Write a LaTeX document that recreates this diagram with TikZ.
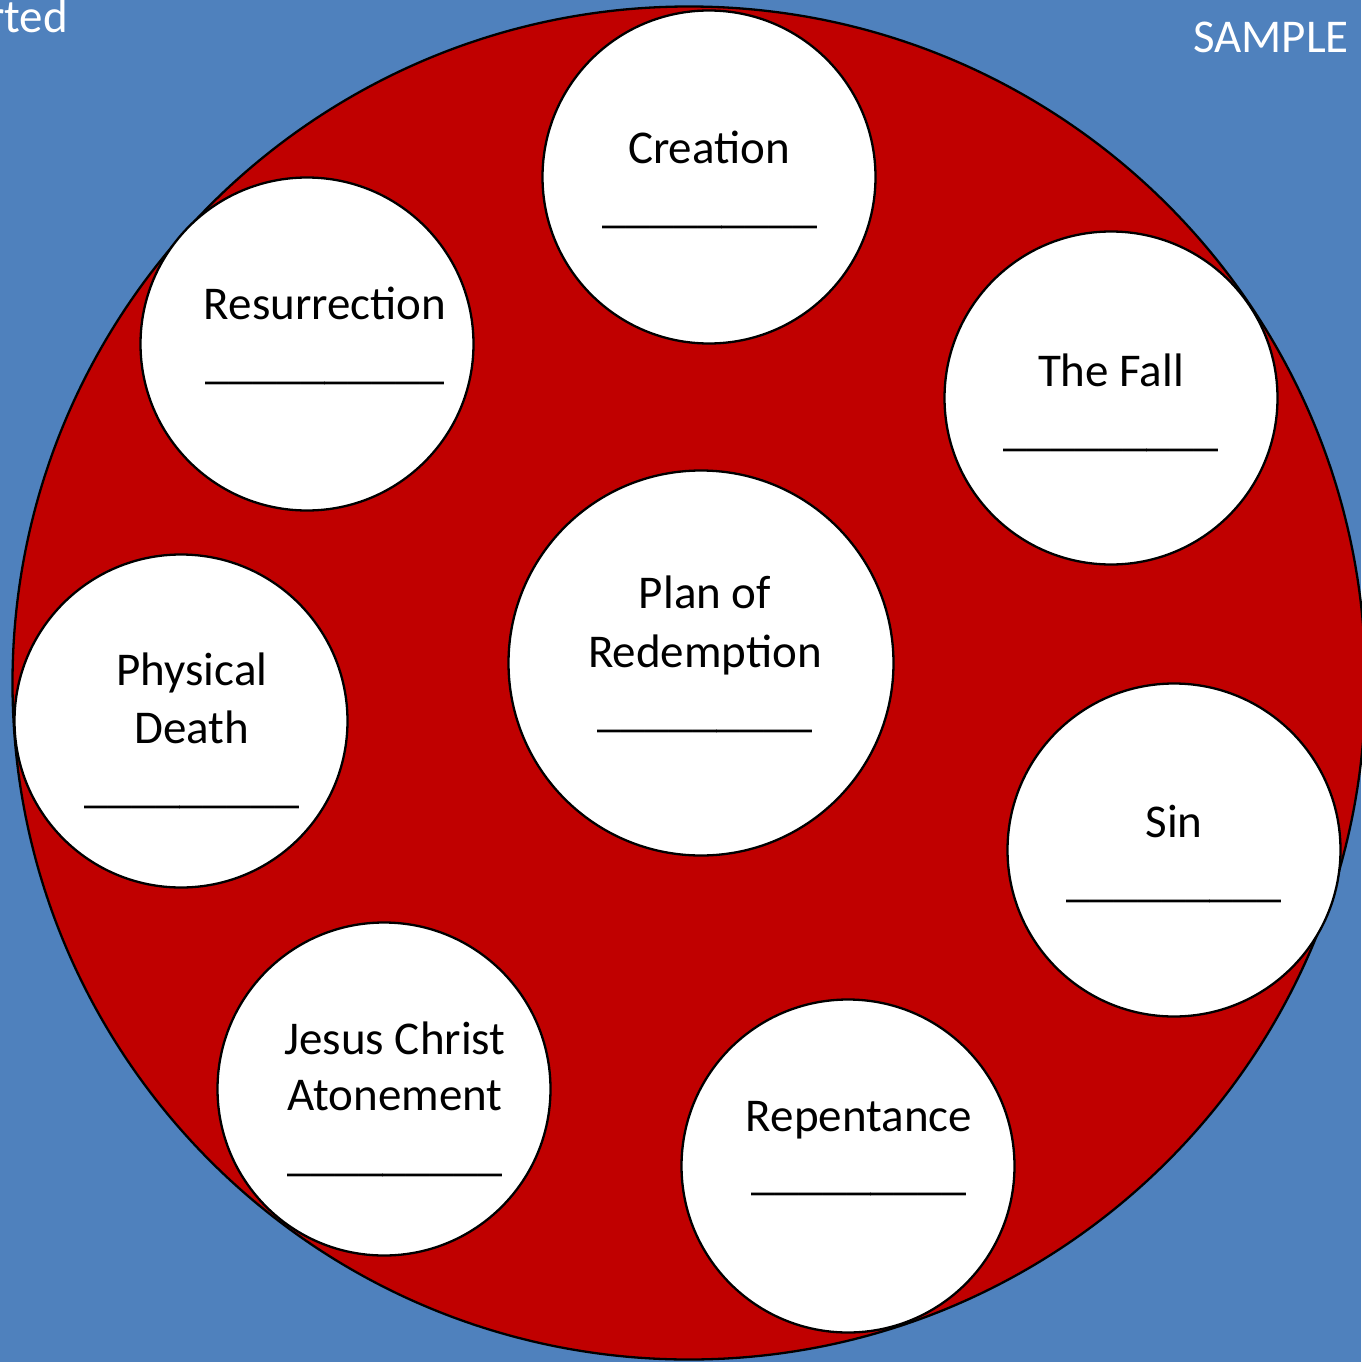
\documentclass[tikz,border=0pt]{standalone}
\usepackage{fontspec}
\setmainfont{Carlito}
\definecolor{bgblue}{HTML}{4F81BD}
\definecolor{bigred}{HTML}{C00000}
\begin{document}
\begin{tikzpicture}[x=1pt,y=-1pt,
  smallc/.style={circle, draw=black, fill=white, line width=2.3pt, minimum size=333pt, inner sep=0pt},
  bigc/.style={circle, draw=black, fill=bigred, line width=2.3pt, minimum size=1353pt, inner sep=0pt},
  lbl/.style={anchor=base, inner sep=0pt, font=\fontsize{47}{58}\selectfont, text=black},
  uline/.style={lbl, xscale=1.025},
  wlbl/.style={anchor=base east, inner sep=0pt, font=\fontsize{47}{58}\selectfont, text=white}]
\fill[bgblue] (0,0) rectangle (1361,1362);
\useasboundingbox (0,0) rectangle (1361,1362);
\node[bigc] (big) at (689,683) {};
\node[wlbl] (rted) at (68,33) {rted};
\node[wlbl] (sample) at (1349,53) {SAMPLE};
% small circles
\node[smallc] (cre) at (709,177) {};
\node[smallc] (res) at (307,344) {};
\node[smallc] (fall) at (1111,398) {};
\node[smallc, minimum size=385pt] (plan) at (701,663) {};
\node[smallc] (phys) at (181,721) {};
\node[smallc] (sin) at (1174,850) {};
\node[smallc] (jes) at (384,1089) {};
\node[smallc] (rep) at (848,1166) {};
% labels
\node[lbl] (cre1) at (709,164) {Creation};
\node[uline] (cre2) at (710,222) {\_\_\_\_\_\_\_\_\_};
\node[lbl] (res1) at (325,319) {Resurrection};
\node[uline] (res2) at (325,378) {\_\_\_\_\_\_\_\_\_\_};
\node[lbl] (fall1) at (1111,386) {The Fall};
\node[uline] (fall2) at (1111,445) {\_\_\_\_\_\_\_\_\_};
\node[lbl] (plan1) at (705,608) {Plan of};
\node[lbl] (plan2) at (705,667) {Redemption};
\node[uline] (plan3) at (705,726) {\_\_\_\_\_\_\_\_\_};
\node[lbl] (phys1) at (192,685) {Physical};
\node[lbl] (phys2) at (192,743) {Death};
\node[uline] (phys3) at (192,802) {\_\_\_\_\_\_\_\_\_};
\node[lbl] (sin1) at (1174,837) {Sin};
\node[uline] (sin2) at (1174,896) {\_\_\_\_\_\_\_\_\_};
\node[lbl] (jes1) at (395,1054) {Jesus Christ};
\node[lbl] (jes2) at (395,1110) {Atonement};
\node[uline] (jes3) at (395,1170) {\_\_\_\_\_\_\_\_\_};
\node[lbl] (rep1) at (859,1131) {Repentance};
\node[uline] (rep2) at (859,1189) {\_\_\_\_\_\_\_\_\_};
\end{tikzpicture}
\end{document}
